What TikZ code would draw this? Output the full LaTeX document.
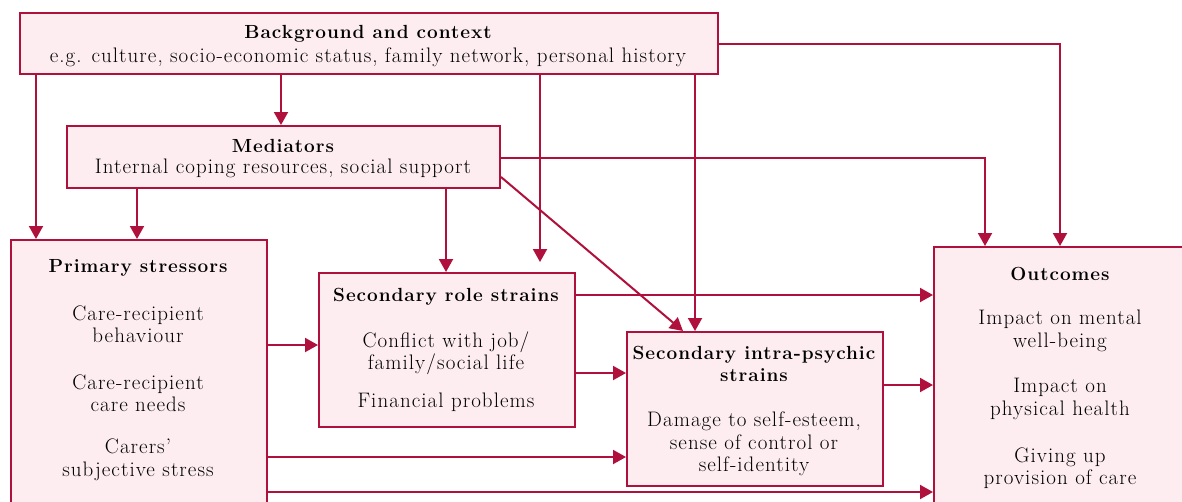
\documentclass[tikz,border=0pt]{standalone}
\usepackage{fontspec}
\setmainfont{Latin Modern Roman}[LetterSpace=5]
\usetikzlibrary{arrows.meta,calc}
\definecolor{edge}{HTML}{B0113C}
\definecolor{boxfill}{HTML}{FDEDF0}
\tikzset{
  box/.style={draw=edge, fill=boxfill, line width=2pt, anchor=north west, inner sep=0pt},
  txt/.style={align=center, font=\fontsize{21}{22.5}\selectfont, inner sep=0pt, text=black},
  ttl/.style={txt, font=\fontsize{19}{22.5}\selectfont\bfseries},
  arr/.style={draw=edge, line width=2pt, -{Triangle[length=13pt,width=14pt]}},
}
\begin{document}
\begin{tikzpicture}[x=1pt,y=-1pt]
\clip (0,0) rectangle (1182,501);
\fill[white] (0,0) rectangle (1182,501);
% boxes
\node[box, minimum width=698pt, minimum height=61pt] (bg) at (19,12) {};
\node[box, minimum width=433pt, minimum height=62pt] (med) at (66,125) {};
\node[box, minimum width=256pt, minimum height=321pt] (pri) at (10,239) {};
\node[box, minimum width=256pt, minimum height=154pt] (role) at (318,272) {};
\node[box, minimum width=256pt, minimum height=154pt] (intra) at (626,331) {};
\node[box, minimum width=307pt, minimum height=314pt] (out) at (933,246) {};
% texts
\node[ttl] (bgt) at (368,34) {Background and context};
\node[txt] (bgb) at (368,57) {e.g. culture, socio-economic status, family network, personal history};
\node[ttl] (medt) at (283,146) {Mediators};
\node[txt] (medb) at (283,168) {Internal coping resources, social support};
\node[ttl] (prit) at (138,268) {Primary stressors};
\node[txt] (pri1) at (138,324) {Care-recipient\\behaviour};
\node[txt] (pri2) at (138,393) {Care-recipient\\care needs};
\node[txt] (pri3) at (138,460) {Carers’\\subjective stress};
\node[ttl] (rolet) at (446,297) {Secondary role strains};
\node[txt] (role1) at (446,353) {Conflict with job/\\family/social life};
\node[txt] (role2) at (446,402) {Financial problems};
\node[ttl] (intrat) at (754,364) {Secondary intra-psychic\\strains};
\node[txt] (intra1) at (754,444) {Damage to self-esteem,\\sense of control or\\self-identity};
\node[ttl] (outt) at (1060,274) {Outcomes};
\node[txt] (out1) at (1060,331) {Impact on mental\\well-being};
\node[txt] (out2) at (1060,399) {Impact on\\physical health};
\node[txt] (out3) at (1060,468) {Giving up\\provision of care};
% connectors from background
\draw[arr] ([xshift=17pt]bg.south west) coordinate (a1) -- (a1 |- pri.north);
\draw[arr] ([xshift=262pt]bg.south west) coordinate (a2) -- (a2 |- med.north);
\draw[arr, shorten >=10pt] ([xshift=521pt]bg.south west) coordinate (a3) -- (a3 |- role.north);
\draw[arr] ([xshift=676pt]bg.south west) coordinate (a4) -- (a4 |- intra.north);
\draw[arr] (bg.east) -| ([xshift=127pt]out.north west);
% connectors from mediators
\draw[arr] ([xshift=71pt]med.south west) coordinate (b1) -- (b1 |- pri.north);
\draw[arr] ([xshift=380pt]med.south west) coordinate (b2) -- (b2 |- role.north);
\draw[arr] ([yshift=-1pt]med.east) -| ([xshift=52pt]out.north west);
\draw[arr] ([yshift=12pt]med.south east) -- ([xshift=57pt]intra.north west);
% connectors from primary stressors
\draw[arr] ([yshift=-73pt]role.north west) coordinate (c1) (c1 -| pri.east) -- (c1);
\draw[arr] ([yshift=-126pt]intra.north west) coordinate (c2) (c2 -| pri.east) -- (c2);
\draw[arr] ([yshift=-246pt]out.north west) coordinate (c3) (c3 -| pri.east) -- (c3);
% connectors from secondary role strains
\draw[arr] ([yshift=-23pt]role.north east) coordinate (d1) -- (d1 -| out.west);
\draw[arr] ([yshift=-42pt]intra.north west) coordinate (d2) (d2 -| role.east) -- (d2);
% from intra-psychic
\draw[arr] ([yshift=-54pt]intra.north east) coordinate (e1) -- (e1 -| out.west);
\end{tikzpicture}
\end{document}
